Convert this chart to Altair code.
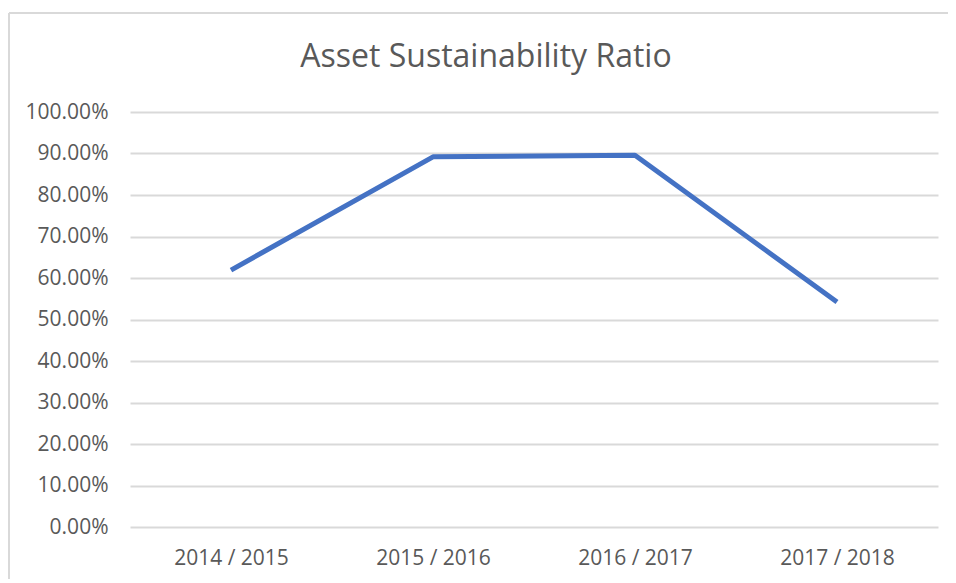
import altair as alt
import pandas as pd

categories = ["2014 / 2015", "2015 / 2016", "2016 / 2017", "2017 / 2018"]
ratios = [0.619, 0.892, 0.896, 0.542]

df = pd.DataFrame({"year": categories, "ratio": ratios})

FONT = "Open Sans"
TXT = "#595959"

line = alt.Chart(df).mark_line(color="#4472C4", strokeWidth=5, strokeCap="butt", strokeJoin="round").encode(
    x=alt.X("year:O", sort=categories, title=None,
            scale=alt.Scale(type="point", padding=0.5),
            axis=alt.Axis(labelAngle=0, labelFont=FONT, labelFontSize=21, labelColor=TXT,
                          labelPadding=20, domain=False, ticks=False, grid=False)),
    y=alt.Y("ratio:Q", title=None,
            scale=alt.Scale(domain=[0, 1], nice=False),
            axis=alt.Axis(format=".2%", values=[i / 10 for i in range(11)], labelFont=FONT,
                          labelFontSize=21, labelColor=TXT, labelPadding=22, domain=False,
                          ticks=False, grid=True, gridColor="#d9d9d9", gridWidth=2)),
)

frame = alt.Chart(df).mark_rule(color="#d9d9d9", strokeWidth=2, clip=False).encode(
    x=alt.value(-121), x2=alt.value(-121), y=alt.value(-99), y2=alt.value(470)
)
frame_top = alt.Chart(df).mark_rule(color="#d9d9d9", strokeWidth=2, clip=False).encode(
    x=alt.value(-121), x2=alt.value(830), y=alt.value(-99), y2=alt.value(-99)
)

chart = alt.layer(frame, frame_top, line).properties(
    width=808, height=415,
    title=alt.TitleParams("Asset Sustainability Ratio", font=FONT, fontSize=32, fontWeight="normal",
                          color=TXT, anchor="middle", dx=-48, offset=-62),
    autosize=alt.AutoSizeParams(type="none"),
    padding={"left": 122, "top": 104, "right": 10, "bottom": 52},
).configure_view(stroke=None)

chart.save("out.html", embed_options={"renderer": "svg", "actions": False})
